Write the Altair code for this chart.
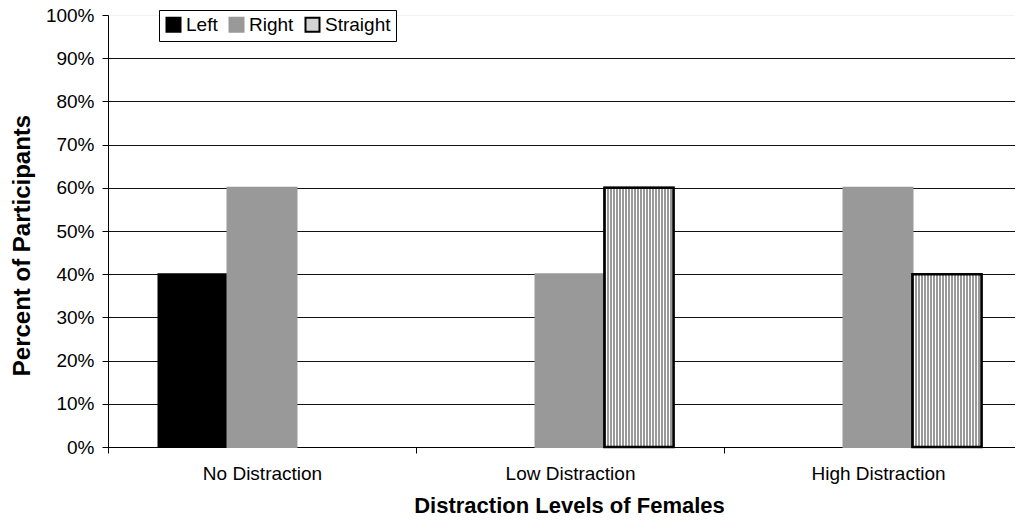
import altair as alt
import pandas as pd

categories = ["No Distraction", "Low Distraction", "High Distraction"]
series = ["Left", "Right", "Straight"]
left = [0.40, 0.0, 0.0]
right = [0.60, 0.40, 0.60]
straight = [0.0, 0.60, 0.40]
y_ticks = [0.0, 0.1, 0.2, 0.3, 0.4, 0.5, 0.6, 0.7, 0.8, 0.9, 1.0]
fill_colors = ["#000000", "#999999", "#d4d4d4"]
edge_colors = ["#000000", "#999999", "#000000"]

rows = []
for i, c in enumerate(categories):
    for s, vals in zip(series, [left, right, straight]):
        rows.append({"category": c, "series": s, "value": vals[i]})
df = pd.DataFrame(rows)

FONT = "Liberation Sans"


def stripes(n, c1, c2):
    stops = []
    for k in range(n):
        a = k / n
        b = (k + 0.5) / n
        e = (k + 1) / n
        stops += [
            alt.GradientStop(offset=a, color=c1),
            alt.GradientStop(offset=b, color=c1),
            alt.GradientStop(offset=b, color=c2),
            alt.GradientStop(offset=e, color=c2),
        ]
    return stops


bar_grad = alt.LinearGradient(gradient="linear", stops=stripes(23, "#999999", "#ffffff"),
                              x1=0, x2=1, y1=0, y2=0)

x_enc = alt.X("category:N", sort=categories,
              scale=alt.Scale(domain=categories, range=[0, 924], paddingInner=0, paddingOuter=0),
              axis=alt.Axis(title="Distraction Levels of Females", labelAngle=0, tickBand="extent",
                            domainColor="black", tickColor="black", tickSize=6,
                            labelPadding=11, titlePadding=12, labelFontSize=19,
                            titleFontSize=22, titleFontWeight="bold", labelColor="black",
                            titleColor="black", labelFont=FONT, titleFont=FONT, grid=False,
                            titleX=461))
xo_enc = alt.XOffset("series:N", scale=alt.Scale(domain=series, paddingInner=0, paddingOuter=0.732))
y_enc = alt.Y("value:Q",
              scale=alt.Scale(domain=[0, 1], nice=False),
              axis=alt.Axis(title="Percent of Participants", format=".0%", values=y_ticks,
                            domainColor="black", tickColor="black", tickSize=6,
                            labelPadding=8, titlePadding=11, labelFontSize=19,
                            titleFontSize=24, titleFontWeight="bold", labelColor="black",
                            titleColor="black", labelFont=FONT, titleFont=FONT,
                            titleY=230,
                            gridColor="#111111",
                            gridOpacity=alt.ConditionalAxisNumber(
                                condition={"test": "datum.value >= 1", "value": 0.05}, value=1)))

legend = alt.Legend(title=None, orient="none", legendX=51, legendY=-5,
                    direction="horizontal", strokeColor="black", padding=5,
                    fillColor="white", labelFontSize=19, labelFont=FONT,
                    labelColor="black", symbolType="square", symbolSize=196,
                    symbolStrokeWidth=2, columnPadding=7, labelOffset=3)

base = alt.Chart(df)

bars = base.mark_bar(strokeWidth=2).encode(
    x=x_enc, xOffset=xo_enc, y=y_enc,
    color=alt.Color("series:N", scale=alt.Scale(domain=series, range=fill_colors), legend=legend),
    stroke=alt.Stroke("series:N", scale=alt.Scale(domain=series, range=edge_colors), legend=legend),
).transform_filter("datum.value > 0")

straight_bars = base.mark_bar(fill=bar_grad, stroke="black", strokeWidth=2.5).encode(
    x=x_enc, xOffset=xo_enc, y=y_enc,
).transform_filter("datum.series === 'Straight' && datum.value > 0")

chart = alt.layer(bars, straight_bars).properties(
    width=907, height=432,
    autosize=alt.AutoSizeParams(type="none"),
    padding={"left": 100, "top": 7, "right": 0, "bottom": 69},
).configure_view(stroke=None).configure_axis(labelFont=FONT, titleFont=FONT)

chart.save("out.html", embed_options={"renderer": "svg", "actions": False})
